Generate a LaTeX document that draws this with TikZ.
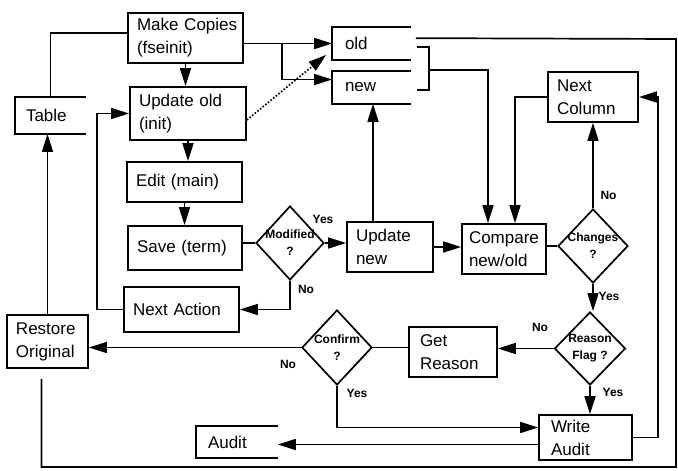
\documentclass[tikz,border=0pt]{standalone}
\usepackage{fontspec}
\setmainfont{Liberation Sans}
\usetikzlibrary{arrows.meta,shapes.geometric,calc}
\begin{document}
\begin{tikzpicture}[x=1pt,y=-1pt,line width=1.7pt,
 box/.style={draw, line width=1.7pt, inner xsep=9pt, inner ysep=2pt, align=left, font=\fontsize{17}{23}\selectfont},
 store/.style={inner xsep=12pt, inner ysep=0pt, align=left, font=\fontsize{17}{20}\selectfont},
 diam/.style={draw, diamond, line width=1.7pt, inner sep=0pt},
 dtext/.style={font=\bfseries\fontsize{12}{17}\selectfont, align=center, inner sep=0pt},
 lbl/.style={font=\bfseries\fontsize{12}{13}\selectfont, inner sep=0pt},
 arr/.style={-{Triangle[length=18pt,width=11pt]}},
 dotline/.style={dash pattern=on 1.6pt off 1.8pt}
]
\useasboundingbox (0,0) rectangle (678,471);

% boxes
\node[box, minimum width=115, minimum height=50, text width=97] (mc) at (185.5,38) {Make~Copies\\(fseinit)};
\node[box, minimum width=116, minimum height=53, text width=98] (uo) at (188,113.5) {Update~old\\(init)};
\node[box, minimum width=115, minimum height=40, text width=97] (ed) at (184.5,182) {Edit~(main)};
\node[box, minimum width=114, minimum height=44, text width=96] (sv) at (185,248) {Save~(term)};
\node[box, minimum width=115, minimum height=45, text width=97] (na) at (181.5,309.5) {Next~Action};
\node[box, minimum width=81, minimum height=53, text width=63] (ro) at (47.5,341.5) {Restore\\Original};
\node[box, minimum width=86, minimum height=50, text width=68] (un) at (390,247) {Update\\new};
\node[box, minimum width=84, minimum height=50, text width=70, inner xsep=7pt] (cmp) at (504,249) {Compare\\new/old};
\node[box, minimum width=90, minimum height=50, text width=72] (nc) at (593,97) {Next\\Column};
\node[box, minimum width=88, minimum height=50, text width=66, inner xsep=11pt] (gr) at (453,352) {Get\\Reason};
\node[box, minimum width=93, minimum height=45, text width=69, inner xsep=12pt] (wa) at (585.5,437.5) {Write\\Audit};

% data stores (open on the right)
\node[store, minimum width=77, minimum height=31, text width=53] (old) at (371.5,43.5) {old};
\node[store, minimum width=77, minimum height=31, text width=53] (new) at (371.5,87.5) {new};
\node[store, minimum width=69, minimum height=35, text width=49, inner xsep=10pt] (tab) at (50.5,115.5) {Table};
\node[store, minimum width=80, minimum height=30, text width=58, inner xsep=11pt] (aud) at (237,442) {Audit};
\foreach \s in {old,new,tab,aud}{
  \draw (\s.north east) -- (\s.north west) -- (\s.south west) -- (\s.south east);
}

% decisions
\node[diam, minimum width=68, minimum height=74] (mod) at (290,243) {};
\node[dtext] (modt) at (mod) {Modified\\?};
\node[diam, minimum width=70, minimum height=74] (chg) at (593,246) {};
\node[dtext] (chgt) at (chg) {Changes\\?};
\node[diam, minimum width=71, minimum height=73] (rf) at (590,348.5) {};
\node[dtext] (rft) at (rf) {Reason\\Flag ?};
\node[diam, minimum width=70, minimum height=75] (conf) at (337,347.5) {};
\node[dtext] (conft) at (conf) {Confirm\\?};

% labels
\node[lbl] (l1) at (323,219) {Yes};
\node[lbl] (l2) at (306,289) {No};
\node[lbl] (l3) at (608.5,195) {No};
\node[lbl] (l4) at (609,296) {Yes};
\node[lbl] (l5) at (540,327) {No};
\node[lbl] (l6) at (613,392) {Yes};
\node[lbl] (l7) at (288,364) {No};
\node[lbl] (l8) at (357,393) {Yes};

% helper coordinates
\coordinate (br) at (282,43.5);
\coordinate (bt) at (417,47);
\coordinate (bm) at (429,70);
\coordinate (bb) at (417,90);
\coordinate (unt) at ($(un.north)+(-17,0)$);
\coordinate (wal) at ($(wa.west)+(0,7)$);
\coordinate (lp0) at ($(old.north east)+(5,11)$);
\coordinate (lp1) at (676,39);
\coordinate (lp2) at (676,467);

% connectors
\draw (tab.north) |- ($(mc.west)+(0,-5)$);
\draw[arr] (ro.north) -- (ro.north |- tab.south);
\draw[arr] (mc.east |- old.west) -- (old.west);
\draw[arr] (br) |- ($(new.west)+(0,-8)$);
\draw[arr, dotline] ($(uo.east)+(0,6.5)$) -- ($(old.south west)+(-6,-5)$);
\draw[arr] (mc.south) -- (mc.south |- uo.north);
\draw[arr] (uo.south) -- (uo.south |- ed.north);
\draw[arr] (ed.south) -- (ed.south |- sv.north);
\draw (sv.east |- mod.west) -- (mod.west);
\draw[arr] (mod.east) -- (mod.east -| un.west);
\draw[arr] (mod.south) |- (na.east);
\draw[arr] (na.west) -- ++(-26,0) |- (uo.west);
\draw[arr] (unt) -- (unt |- new.south);
\draw[arr] (un.east) -- (un.east -| cmp.west);
\draw (bt) -| (bm) |- (bb);
\draw[arr] (bm) -| ($(cmp.north)+(-16,0)$);
\draw[arr] (nc.west) -| ($(cmp.north)+(11,0)$);
\draw (cmp.east |- chg.west) -- (chg.west);
\draw[arr] (chg.north) -- (chg.north |- nc.south);
\draw[arr] (chg.south) -- (chg.south |- rf.north);
\draw[arr] (rf.west) -- (rf.west -| gr.east);
\draw (gr.west |- conf.east) -- (conf.east);
\draw[arr] (conf.west) -- (conf.west -| ro.east);
\draw[arr] (conf.south) |- ($(wa.west)+(0,-10)$);
\draw[arr] (rf.south) -- (rf.south |- wa.north);
\draw[arr] (wal) -- (wal -| aud.east);
\draw[arr] (wa.east) -- ++(25,0) |- (nc.east);
\draw (lp0) -- (lp1) -- (lp2) -| ($(ro.south)+(-6,10)$);
\end{tikzpicture}
\end{document}
